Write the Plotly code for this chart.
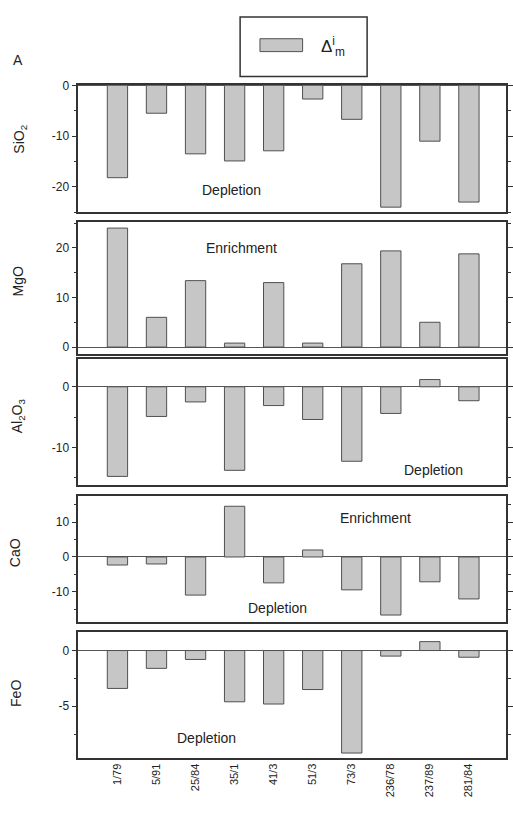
import plotly.graph_objects as go

W, H = 513, 816

samples = ["1/79", "5/91", "25/84", "35/1", "41/3", "51/3", "73/3", "236/78", "237/89", "281/84"]

sio2 = [-18.2, -5.5, -13.5, -14.9, -12.9, -2.7, -6.7, -24.0, -11.0, -23.0]
mgo = [24.0, 6.0, 13.4, 0.8, 13.0, 0.8, 16.8, 19.4, 5.0, 18.8]
al2o3 = [-14.8, -4.9, -2.5, -13.8, -3.1, -5.4, -12.3, -4.4, 1.2, -2.3]
cao = [-2.3, -2.0, -10.9, 14.5, -7.4, 2.0, -9.4, -16.6, -7.1, -12.0]
feo = [-3.4, -1.6, -0.8, -4.6, -4.8, -3.5, -9.2, -0.5, 0.8, -0.6]

panel_titles = ["SiO<sub>2</sub>", "MgO", "Al<sub>2</sub>O<sub>3</sub>", "CaO", "FeO"]
panel_values = [sio2, mgo, al2o3, cao, feo]
panel_ranges = [[-25, 0], [-1.4, 25.2], [-16.2, 4.6], [-18.5, 17.5], [-9.6, 1.7]]
panel_ticks = [[0, -10, -20], [0, 10, 20], [0, -10], [10, 0, -10], [0, -5]]
panel_minor = [5, 5, 5, 5, 2.5]
# pixel tops/bottoms of panels
panel_px = [(79, 207), (217, 350), (355, 482), (493, 620), (630, 757)]
title_px = [(20, 133), (18, 277), (19, 412), (15, 550), (16, 692)]

FONT = "Liberation Sans, Arial, sans-serif"
FILL = "#c6c6c6"
EDGE = "#505050"
LINE = "#333333"

def px_x(x):
    return x / W

def px_y(y):
    return 1 - y / H

fig = go.Figure()
layout = dict(
    width=W, height=H,
    margin=dict(l=0, r=0, t=0, b=0),
    paper_bgcolor="white", plot_bgcolor="white",
    showlegend=False, bargap=0.48,
    font=dict(family=FONT, size=12, color="#222"),
)

xdom = [px_x(79), px_x(510)]
annotations = []
for i, (vals, rng, tv, mn, (top, bot), ttl, tpos) in enumerate(
        zip(panel_values, panel_ranges, panel_ticks, panel_minor, panel_px, panel_titles, title_px)):
    n = i + 1
    xa = "x" if n == 1 else f"x{n}"
    ya = "y" if n == 1 else f"y{n}"
    fig.add_trace(go.Bar(
        x=samples, y=vals, xaxis=xa, yaxis=ya, name="Δ",
        marker=dict(color=FILL, line=dict(color=EDGE, width=1)),
    ))
    xkey = "xaxis" if n == 1 else f"xaxis{n}"
    ykey = "yaxis" if n == 1 else f"yaxis{n}"
    layout[xkey] = dict(
        domain=xdom, anchor=ya, type="category", categoryorder="array",
        categoryarray=samples, range=[-1, 9.95],
        showline=True, mirror=True, linecolor=LINE, linewidth=1.6,
        showgrid=False, zeroline=False, ticks="",
        showticklabels=(n == 5), tickangle=-90,
        tickfont=dict(size=11, family=FONT, color="#222"),
    )
    layout[ykey] = dict(
        domain=[px_y(bot), px_y(top)], anchor=xa, range=rng,
        tickvals=tv, ticktext=[str(v) for v in tv],
        ticks="outside", ticklen=5, tickwidth=1, tickcolor=LINE,
        minor=dict(dtick=mn, ticks="outside", ticklen=3, tickcolor=LINE),
        showline=True, mirror="ticks", linecolor=LINE, linewidth=1.6,
        showgrid=False, zeroline=True, zerolinecolor="#555", zerolinewidth=1,
        tickfont=dict(size=12, family=FONT, color="#222"),
    )
    annotations.append(dict(
        text=ttl, x=px_x(tpos[0]), y=px_y(tpos[1]), xref="paper", yref="paper",
        textangle=-90, showarrow=False, xanchor="center", yanchor="middle",
        font=dict(size=14, family=FONT, color="#222"),
    ))

labels = [
    ("Depletion", 233, 185), ("Enrichment", 243, 243), ("Depletion", 437, 467),
    ("Enrichment", 378, 515), ("Depletion", 280, 606), ("Depletion", 208, 737),
    ("A", 18, 53),
]
for t, x, y in labels:
    annotations.append(dict(
        text=t, x=px_x(x), y=px_y(y), xref="paper", yref="paper", showarrow=False,
        xanchor="center", yanchor="middle", font=dict(size=14, family=FONT, color="#222"),
    ))

# legend (manual)
annotations.append(dict(
    text="Δ<sup>i</sup><sub>m</sub>", x=px_x(322), y=px_y(40), xref="paper", yref="paper",
    showarrow=False, xanchor="left", yanchor="middle", font=dict(size=17, family=FONT, color="#222"),
))
shapes = [
    dict(type="rect", xref="paper", yref="paper", x0=px_x(242), x1=px_x(370),
         y0=px_y(70), y1=px_y(10), line=dict(color=LINE, width=1.5), fillcolor="white"),
    dict(type="rect", xref="paper", yref="paper", x0=px_x(262), x1=px_x(305),
         y0=px_y(45), y1=px_y(32), line=dict(color=EDGE, width=1), fillcolor=FILL),
]
layout["annotations"] = annotations
layout["shapes"] = shapes
fig.update_layout(**layout)
fig.write_html("out.html")
